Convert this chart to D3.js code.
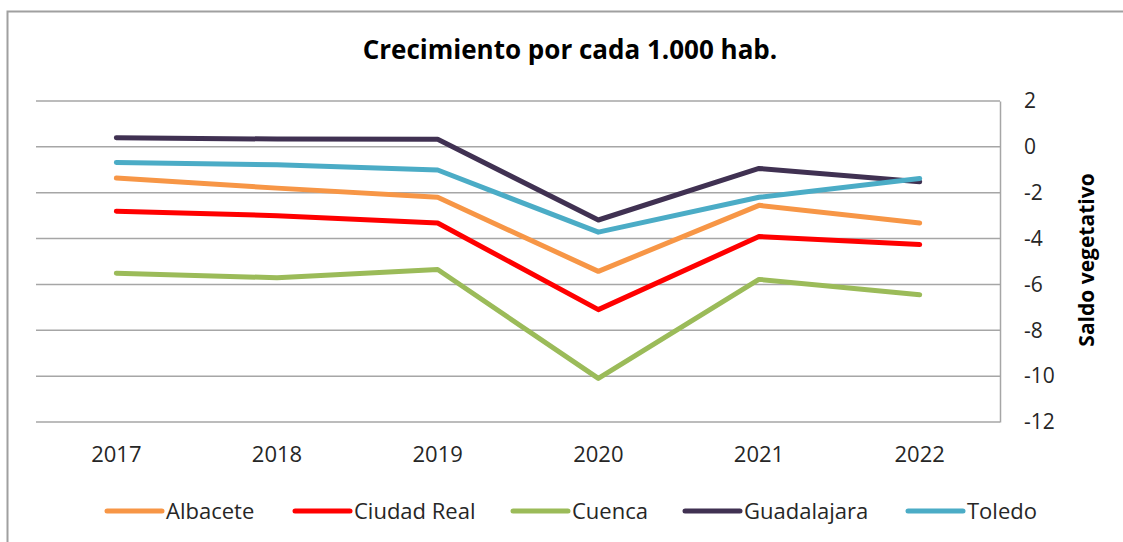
<!DOCTYPE html>
<head>
    <meta charset="utf-8">
    <script src="https://d3js.org/d3.v7.min.js"></script>
    <style type="text/css">
        html, body { margin: 0; background: #fff; }
        svg { display: block; }
        text { font-family: "Open Sans", "Liberation Sans", sans-serif; }
    </style>
</head>
<body>
<script type="text/javascript">
    var years = ["2017", "2018", "2019", "2020", "2021", "2022"];
    var names = ["Albacete", "Ciudad Real", "Cuenca", "Guadalajara", "Toledo"];
    var colors = ["#f79646", "#ff0000", "#9bbb59", "#403152", "#4bacc6"];

    var albacete    = [-1.36, -1.80, -2.20, -5.43, -2.55, -3.32];
    var ciudadReal  = [-2.81, -3.00, -3.32, -7.10, -3.91, -4.26];
    var cuenca      = [-5.51, -5.71, -5.35, -10.10, -5.78, -6.45];
    var guadalajara = [0.40, 0.34, 0.33, -3.19, -0.94, -1.52];
    var toledo      = [-0.68, -0.78, -1.01, -3.72, -2.20, -1.38];
    var yTicks = [2, 0, -2, -4, -6, -8, -10, -12];

    var series = [albacete, ciudadReal, cuenca, guadalajara, toledo];

    var W = 1123, H = 542;
    var plotL = 36, plotR = 1000, plotT = 101, plotB = 422;

    var svg = d3.select("body").append("svg")
        .attr("width", W).attr("height", H);

    // outer chart border (cut off at right and bottom like the picture)
    svg.append("path")
        .attr("d", "M7.5," + (H + 2) + "V11.5H" + (W + 2))
        .attr("fill", "none").attr("stroke", "#a0a0a0").attr("stroke-width", 2);

    var x = d3.scaleBand().domain(years).range([plotL, plotR]);
    var y = d3.scaleLinear().domain([-12, 2]).range([plotB, plotT]);

    // gridlines
    svg.append("g").selectAll("line").data(yTicks).join("line")
        .attr("x1", plotL).attr("x2", plotR)
        .attr("y1", d => y(d)).attr("y2", d => y(d))
        .attr("stroke", "#a6a6a6").attr("stroke-width", 1.5);

    // right axis
    var yAxis = svg.append("g")
        .attr("transform", "translate(" + plotR + ",0)")
        .call(d3.axisRight(y).tickValues(yTicks).tickSize(0).tickPadding(24)
            .tickFormat(d => d < 0 ? "-" + Math.abs(d) : d));
    yAxis.select(".domain").attr("stroke", "#a6a6a6").attr("stroke-width", 1.5);
    yAxis.selectAll("text").attr("font-size", 21).attr("fill", "#262626");

    // x axis labels
    var xAxis = svg.append("g")
        .attr("transform", "translate(0," + plotB + ")")
        .call(d3.axisBottom(x).tickSize(0).tickPadding(24));
    xAxis.select(".domain").remove();
    xAxis.selectAll("text").attr("font-size", 22).attr("fill", "#262626");

    // lines
    var line = d3.line()
        .x((d, i) => x(years[i]) + x.bandwidth() / 2)
        .y(d => y(d));

    svg.append("g").selectAll("path").data(series).join("path")
        .attr("d", line)
        .attr("fill", "none")
        .attr("stroke", (d, i) => colors[i])
        .attr("stroke-width", 5)
        .attr("stroke-linejoin", "round")
        .attr("stroke-linecap", "round");

    // title
    svg.append("text")
        .attr("x", 570).attr("y", 59)
        .attr("text-anchor", "middle")
        .attr("font-size", 26).attr("font-weight", "bold").attr("fill", "#000")
        .text("Crecimiento por cada 1.000 hab.");

    // axis title
    svg.append("text")
        .attr("transform", "translate(1094,260) rotate(-90)")
        .attr("text-anchor", "middle")
        .attr("font-size", 21).attr("font-weight", "bold").attr("fill", "#000")
        .text("Saldo vegetativo");

    // legend
    var legendX = [107, 295, 513, 685, 908];
    var leg = svg.append("g").selectAll("g").data(names).join("g")
        .attr("transform", (d, i) => "translate(" + legendX[i] + ",511)");
    leg.append("line")
        .attr("x1", 0).attr("x2", 55)
        .attr("stroke", (d, i) => colors[i])
        .attr("stroke-width", 5).attr("stroke-linecap", "round");
    leg.append("text")
        .attr("x", 59).attr("dy", "0.35em")
        .attr("font-size", 22).attr("fill", "#262626")
        .text(d => d);
</script>
</body>
